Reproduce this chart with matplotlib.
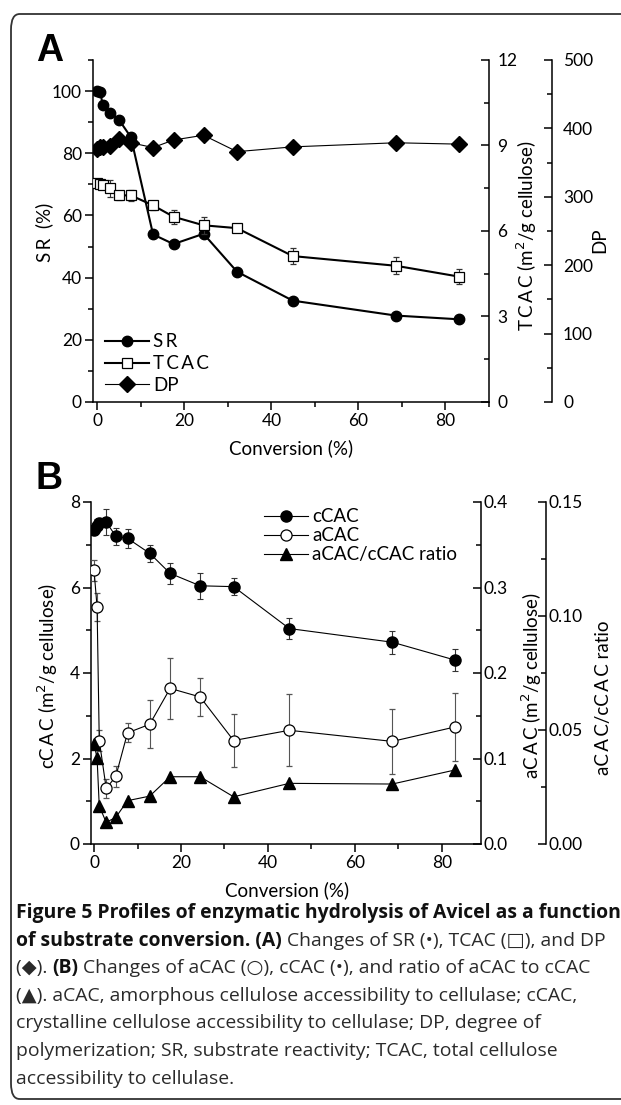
import matplotlib
matplotlib.use("Agg")
import matplotlib.pyplot as plt
from matplotlib.patches import FancyBboxPatch
from matplotlib.ticker import MultipleLocator

# ---------------- data ----------------
conv = [0, 0.7, 1.2, 2.8, 5.0, 7.7, 12.8, 17.5, 24.4, 32.1, 44.9, 68.6, 83.1]

sr = [100, 99.8, 95.5, 93.1, 90.7, 85.2, 53.9, 50.8, 54.1, 41.9, 32.6, 27.8, 26.6]
tcac = [7.7, 7.65, 7.6, 7.5, 7.25, 7.25, 6.9, 6.5, 6.2, 6.1, 5.12, 4.78, 4.40]
tcac_err = [0.12, 0.15, 0.12, 0.3, 0.15, 0.2, 0.15, 0.25, 0.3, 0.15, 0.28, 0.3, 0.25]
dp = [370, 373, 373, 374, 385, 379, 372, 383, 390, 366, 373, 379, 377]

ccac = [7.35, 7.45, 7.5, 7.53, 7.2, 7.15, 6.8, 6.33, 6.04, 6.02, 5.04, 4.72, 4.3]
ccac_err = [0.12, 0.15, 0.12, 0.3, 0.2, 0.22, 0.2, 0.24, 0.3, 0.2, 0.24, 0.27, 0.26]
acac = [0.32, 0.277, 0.121, 0.065, 0.079, 0.130, 0.140, 0.182, 0.172, 0.121, 0.133, 0.120, 0.137]
acac_err = [0.012, 0.016, 0.012, 0.011, 0.012, 0.011, 0.028, 0.036, 0.022, 0.031, 0.042, 0.038, 0.040]
ratio = [0.044, 0.0376, 0.0166, 0.0095, 0.0117, 0.019, 0.021, 0.0295, 0.0295, 0.0207, 0.0266, 0.0263, 0.0325]

xticks = [0, 20, 40, 60, 80]

W, H = 621, 1105
FONT = ['Lato', 'DejaVu Sans']
plt.rcParams['font.family'] = FONT
TS = '\u2009'  # thin space for the slight letter spacing of the original

fig = plt.figure(figsize=(W / 100, H / 100), dpi=100)


def fx(px):
    return px / W


def fy(py):
    return 1 - py / H


def ax_rect(l, t, r, b):
    return [fx(l), fy(b), (r - l) / W, (b - t) / H]


def sp(s):
    return TS.join(s)


TICKFS = 12.5
LABFS = 13.5
SPW = 1.1


def style_axis(a):
    a.tick_params(axis='both', which='major', length=6, width=SPW, labelsize=TICKFS, pad=2)
    a.tick_params(axis='both', which='minor', length=3.5, width=SPW)
    for s in a.spines.values():
        s.set_linewidth(SPW)


# ---------------- frame ----------------
frame = FancyBboxPatch((fx(11), fy(1099)), fx(660) - fx(11), fy(14) - fy(1099),
                       boxstyle="round,pad=0,rounding_size=0.014",
                       transform=fig.transFigure, fill=False, lw=1.3,
                       edgecolor='#333333', clip_on=False)
fig.patches.append(frame)

# ---------------- Panel A ----------------
axA = fig.add_axes(ax_rect(93, 60, 489, 402))
axA2 = axA.twinx()
axA3 = axA.twinx()
axA3.spines['right'].set_position(('outward', 63 * 0.72))

for a in (axA, axA2, axA3):
    style_axis(a)
    a.spines['top'].set_visible(False)
axA.spines['right'].set_visible(False)
for a in (axA2, axA3):
    a.spines['left'].set_visible(False)
    a.spines['bottom'].set_visible(False)

axA.set_xlim(-1, 90)
axA.set_ylim(0, 110)
axA2.set_ylim(0, 12)
axA3.set_ylim(0, 500)
axA.set_xticks(xticks)
axA.xaxis.set_minor_locator(MultipleLocator(10))
axA.set_yticks([0, 20, 40, 60, 80, 100])
axA.yaxis.set_minor_locator(MultipleLocator(10))
axA2.set_yticks([0, 3, 6, 9, 12])
axA2.yaxis.set_minor_locator(MultipleLocator(1.5))
axA3.set_yticks([0, 100, 200, 300, 400, 500])
axA3.yaxis.set_minor_locator(MultipleLocator(50))
axA2.tick_params(axis='y', which='both', direction='in', pad=6)
axA3.tick_params(axis='y', which='both', direction='in', pad=8)

lSR, = axA.plot(conv, sr, '-', color='black', lw=1.5, marker='o', ms=7.5,
                mfc='black', mec='black', zorder=3)
ebT = axA2.errorbar(conv, tcac, yerr=tcac_err, fmt='-', color='black', lw=1.5,
                    marker='s', ms=6.5, mfc='white', mec='black', mew=0.9,
                    ecolor='#333333', elinewidth=0.8, capsize=2.5, capthick=0.8, zorder=3)
lDP, = axA3.plot(conv, dp, '-', color='black', lw=0.8, marker='D', ms=8.5,
                 mfc='black', mec='black', zorder=3)

fig.text(fx(44), fy(232), sp('SR') + '  (%)', rotation=90, ha='center', va='center',
         fontsize=LABFS)
fig.text(fx(527), fy(236), sp('TCAC') + ' (m$^2$/g cellulose)', rotation=90, ha='center',
         va='center', fontsize=LABFS)
fig.text(fx(600), fy(240), 'DP', rotation=90, ha='center', va='center', fontsize=LABFS)
fig.text(fx(291), fy(448), 'Conversion (%)', ha='center', va='center', fontsize=LABFS)
fig.text(fx(36), fy(61), 'A', fontsize=27, fontweight='bold',
         family=['Liberation Sans', 'DejaVu Sans'], ha='left', va='baseline')

fig.legend([lSR, ebT[0], lDP], [sp('SR'), sp('TCAC'), 'DP'], loc='upper left',
           bbox_to_anchor=(fx(96), fy(324)), frameon=False, fontsize=13.5,
           handlelength=2.3, handletextpad=0.25, labelspacing=0.25, borderpad=0)

# ---------------- Panel B ----------------
axB = fig.add_axes(ax_rect(91, 502, 481, 844))
axB2 = axB.twinx()
axB3 = axB.twinx()
axB3.spines['right'].set_position(('outward', 65 * 0.72))
for a in (axB, axB2, axB3):
    style_axis(a)
    a.spines['top'].set_visible(False)
axB.spines['right'].set_visible(False)
for a in (axB2, axB3):
    a.spines['left'].set_visible(False)
    a.spines['bottom'].set_visible(False)

axB.set_xlim(-0.7, 89)
axB.set_ylim(0, 8)
axB2.set_ylim(0, 0.4)
axB3.set_ylim(0, 0.15)
axB.set_xticks(xticks)
axB.xaxis.set_minor_locator(MultipleLocator(10))
axB.set_yticks([0, 2, 4, 6, 8])
axB.yaxis.set_minor_locator(MultipleLocator(1))
axB2.set_yticks([0, 0.1, 0.2, 0.3, 0.4])
axB2.set_yticklabels(['0.0', '0.1', '0.2', '0.3', '0.4'])
axB2.yaxis.set_minor_locator(MultipleLocator(0.05))
axB3.set_yticks([0, 0.05, 0.10, 0.15])
axB3.set_yticklabels(['0.00', '0.05', '0.10', '0.15'])
axB3.yaxis.set_minor_locator(MultipleLocator(0.025))
axB2.tick_params(axis='y', which='both', direction='in', pad=2)
axB3.tick_params(axis='y', which='both', direction='in', pad=2)

ebC = axB.errorbar(conv, ccac, yerr=ccac_err, fmt='-', color='black', lw=0.8,
                   marker='o', ms=8, mfc='black', mec='black',
                   ecolor='#333333', elinewidth=0.8, capsize=2.5, capthick=0.8, zorder=3)
ebA = axB2.errorbar(conv, acac, yerr=acac_err, fmt='-', color='black', lw=0.8,
                    marker='o', ms=8, mfc='white', mec='black', mew=0.9,
                    ecolor='#555555', elinewidth=0.8, capsize=2.5, capthick=0.8, zorder=3)
lR, = axB3.plot(conv, ratio, '-', color='black', lw=0.8, marker='^', ms=8.5,
                mfc='black', mec='black', zorder=3)

fig.text(fx(48), fy(676), 'c' + sp('CAC') + ' (m$^2$/g cellulose)', rotation=90, ha='center',
         va='center', fontsize=LABFS)
fig.text(fx(532), fy(686), 'a' + sp('CAC') + ' (m$^2$/g cellulose)', rotation=90, ha='center',
         va='center', fontsize=LABFS)
fig.text(fx(603), fy(698), 'a' + sp('CAC') + '/c' + sp('CAC') + ' ratio', rotation=90,
         ha='center', va='center', fontsize=LABFS)
fig.text(fx(287), fy(890), 'Conversion (%)', ha='center', va='center', fontsize=LABFS)
fig.text(fx(35), fy(489), 'B', fontsize=27, fontweight='bold',
         family=['Liberation Sans', 'DejaVu Sans'], ha='left', va='baseline')

fig.legend([ebC[0], ebA[0], lR], ['cCAC', 'aCAC', 'aCAC/cCAC ratio'], loc='upper left',
           bbox_to_anchor=(fx(255), fy(499)), frameon=False, fontsize=13.5,
           handlelength=2.3, handletextpad=0.25, labelspacing=0.1, borderpad=0)

# ---------------- caption ----------------
CFAM = ['Open Sans', 'DejaVu Sans']
renderer = fig.canvas.get_renderer()
line1 = 'Figure 5 Profiles of enzymatic hydrolysis of Avicel as a function'
probe = fig.text(0, 0, line1, fontsize=12, fontweight='bold', family=CFAM)
w12 = probe.get_window_extent(renderer).width
probe.remove()
CFS = 12 * 604 / w12

caption = [
    [(line1, True)],
    [('of substrate conversion. (A)', True), (' Changes of SR (\u2022), TCAC (\u25a1), and DP', False)],
    [('(\u25c6). ', False), ('(B)', True), (' Changes of aCAC (\u25cb), cCAC (\u2022), and ratio of aCAC to cCAC', False)],
    [('(\u25b2). aCAC, amorphous cellulose accessibility to cellulase; cCAC,', False)],
    [('crystalline cellulose accessibility to cellulase; DP, degree of', False)],
    [('polymerization; SR, substrate reactivity; TCAC, total cellulose', False)],
    [('accessibility to cellulase.', False)],
]
y0 = 918
dy = 27.6


def text_width(s, bold):
    # width including leading/trailing spaces via sentinel characters
    t = fig.text(0, 0, '|' + s + '|', fontsize=CFS, family=CFAM,
                 fontweight='bold' if bold else 'normal')
    w = t.get_window_extent(renderer).width
    t.remove()
    t = fig.text(0, 0, '||', fontsize=CFS, family=CFAM,
                 fontweight='bold' if bold else 'normal')
    w0 = t.get_window_extent(renderer).width
    t.remove()
    return w - w0


for i, runs in enumerate(caption):
    x = 16
    y = y0 + i * dy
    for s, bold in runs:
        fig.text(fx(x), fy(y), s, fontsize=CFS, family=CFAM,
                 fontweight='bold' if bold else 'normal',
                 color='#111111' if bold else '#2a2a2a', va='baseline', ha='left')
        x += text_width(s, bold)

fig.savefig('out.png', dpi=100)
